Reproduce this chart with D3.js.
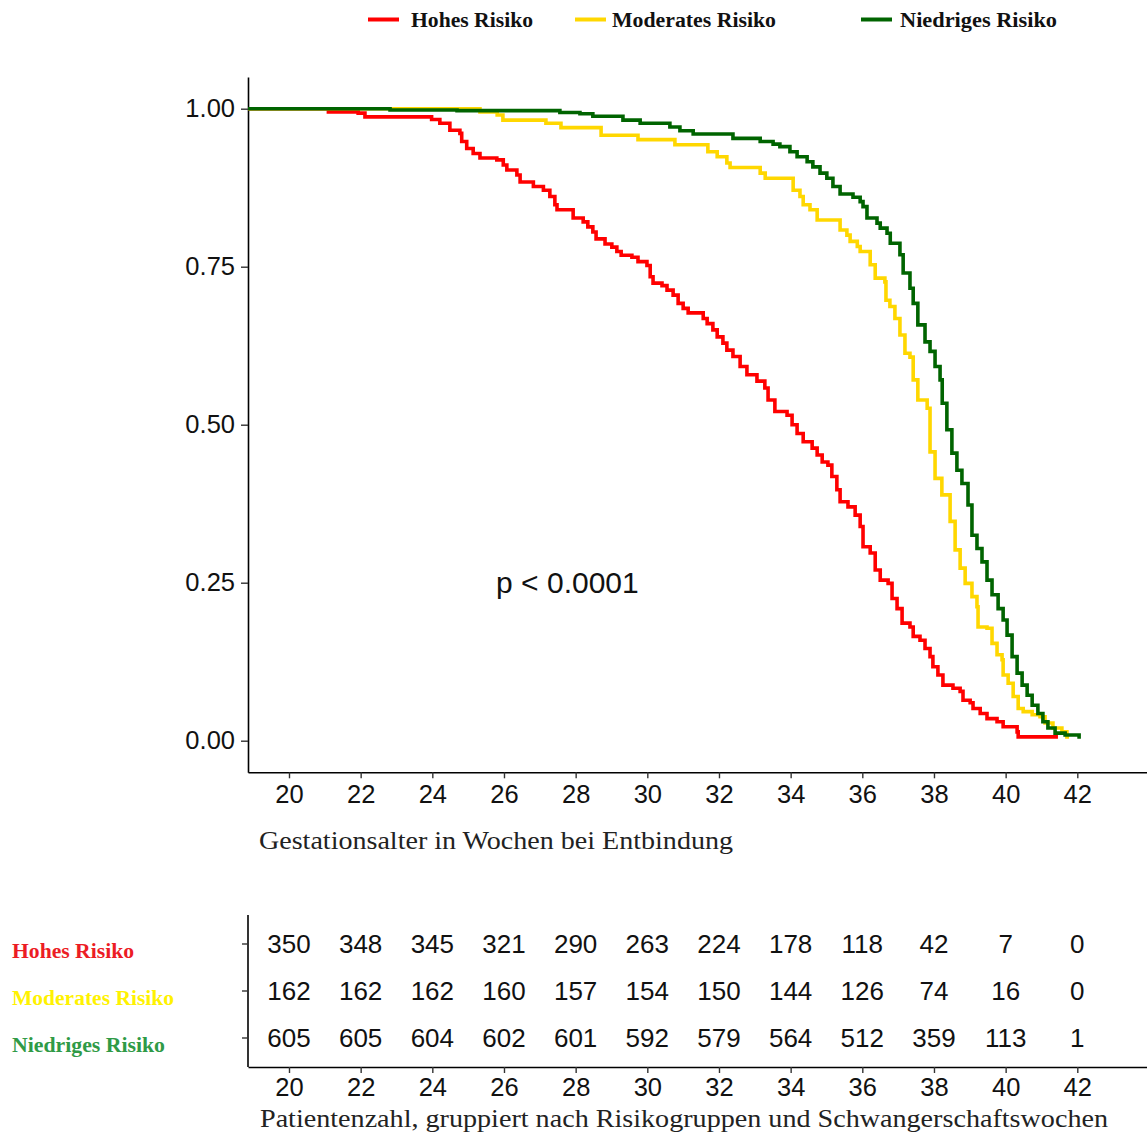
<!DOCTYPE html>
<html><head><meta charset="utf-8">
<script src="https://cdn.jsdelivr.net/npm/d3@7"></script>
<style>body{margin:0;background:#fff}</style>
</head><body>
<svg id="chart" width="1147" height="1136"></svg>
<script>
// ---------- DATA ----------
const groups = ["Hohes Risiko", "Moderates Risiko", "Niedriges Risiko"];
const curveColors = ["#ff0000", "#ffd700", "#006400"];
const labelColors = ["#ec1c24", "#fff200", "#2f9a46"];

// Kaplan-Meier steps: [week, survival after step]
const highRisk = [[21.10,0.995],[21.93,0.993],[22.12,0.987],[23.98,0.983],[24.21,0.977],[24.49,0.966],[24.77,0.961],[24.82,0.948],[24.96,0.937],[25.14,0.929],[25.33,0.922],[25.80,0.919],[25.98,0.911],[26.08,0.903],[26.36,0.895],[26.45,0.884],[26.82,0.877],[27.10,0.871],[27.28,0.861],[27.42,0.848],[27.48,0.840],[27.93,0.827],[28.21,0.821],[28.34,0.813],[28.48,0.805],[28.57,0.794],[28.82,0.786],[29.01,0.781],[29.15,0.774],[29.27,0.768],[29.57,0.765],[29.74,0.758],[29.99,0.752],[30.08,0.734],[30.16,0.724],[30.41,0.720],[30.55,0.713],[30.72,0.705],[30.86,0.692],[31.00,0.684],[31.14,0.677],[31.56,0.668],[31.67,0.660],[31.83,0.650],[31.95,0.639],[32.11,0.629],[32.22,0.618],[32.39,0.608],[32.59,0.592],[32.78,0.579],[33.06,0.569],[33.28,0.558],[33.37,0.539],[33.56,0.521],[33.90,0.515],[34.04,0.500],[34.18,0.486],[34.35,0.473],[34.60,0.463],[34.74,0.452],[34.88,0.441],[35.04,0.436],[35.15,0.418],[35.29,0.397],[35.38,0.378],[35.60,0.370],[35.80,0.357],[35.94,0.339],[36.02,0.307],[36.22,0.297],[36.36,0.270],[36.50,0.254],[36.72,0.249],[36.83,0.225],[36.97,0.209],[37.11,0.186],[37.33,0.180],[37.42,0.165],[37.61,0.159],[37.75,0.146],[37.89,0.133],[37.97,0.117],[38.11,0.104],[38.25,0.088],[38.53,0.083],[38.73,0.078],[38.81,0.064],[39.01,0.060],[39.09,0.051],[39.29,0.043],[39.48,0.035],[39.76,0.030],[39.93,0.022],[40.32,0.014],[40.35,0.006],[41.46,0.006]];

const moderateRisk = [[25.33,0.995],[25.81,0.990],[25.97,0.982],[27.17,0.977],[27.59,0.970],[28.71,0.958],[29.74,0.951],[30.77,0.943],[31.69,0.932],[31.95,0.924],[32.22,0.914],[32.31,0.907],[33.15,0.898],[33.29,0.890],[34.07,0.871],[34.26,0.861],[34.35,0.848],[34.54,0.840],[34.74,0.824],[35.38,0.808],[35.57,0.800],[35.66,0.790],[35.86,0.782],[35.94,0.774],[36.22,0.753],[36.36,0.732],[36.63,0.726],[36.66,0.697],[36.77,0.687],[36.91,0.668],[37.05,0.642],[37.19,0.613],[37.33,0.607],[37.42,0.571],[37.55,0.539],[37.81,0.526],[37.89,0.457],[38.03,0.415],[38.22,0.389],[38.45,0.347],[38.59,0.302],[38.73,0.273],[38.87,0.249],[39.06,0.228],[39.20,0.212],[39.23,0.180],[39.48,0.178],[39.62,0.154],[39.76,0.136],[39.90,0.128],[39.93,0.104],[40.07,0.091],[40.21,0.070],[40.35,0.051],[40.49,0.046],[40.74,0.041],[40.96,0.038],[41.10,0.028],[41.32,0.020],[41.57,0.014],[41.71,0.006],[41.77,0.006]];

const lowRisk = [[22.82,0.998],[24.69,0.997],[27.56,0.994],[28.12,0.992],[28.48,0.988],[29.32,0.982],[29.80,0.977],[30.63,0.971],[30.91,0.965],[31.28,0.960],[32.39,0.953],[33.15,0.948],[33.51,0.944],[33.70,0.940],[33.98,0.932],[34.18,0.924],[34.46,0.916],[34.62,0.908],[34.82,0.898],[35.01,0.890],[35.18,0.877],[35.38,0.865],[35.74,0.860],[35.94,0.853],[36.02,0.845],[36.13,0.827],[36.41,0.819],[36.50,0.811],[36.69,0.803],[36.78,0.787],[37.05,0.769],[37.14,0.740],[37.33,0.716],[37.42,0.692],[37.55,0.658],[37.75,0.631],[37.89,0.616],[38.03,0.592],[38.17,0.571],[38.23,0.534],[38.36,0.492],[38.50,0.455],[38.64,0.428],[38.78,0.407],[38.95,0.373],[39.06,0.325],[39.20,0.304],[39.34,0.283],[39.48,0.254],[39.62,0.231],[39.79,0.209],[39.93,0.191],[40.04,0.167],[40.18,0.133],[40.32,0.107],[40.46,0.088],[40.60,0.072],[40.74,0.056],[40.90,0.043],[41.04,0.030],[41.18,0.020],[41.38,0.012],[41.66,0.009],[42.05,0.003]];

const weekTicks = [20, 22, 24, 26, 28, 30, 32, 34, 36, 38, 40, 42];
const survTicks = [0, 0.25, 0.5, 0.75, 1];
const highAtRisk = [350, 348, 345, 321, 290, 263, 224, 178, 118, 42, 7, 0];
const moderateAtRisk = [162, 162, 162, 160, 157, 154, 150, 144, 126, 74, 16, 0];
const lowAtRisk = [605, 605, 604, 602, 601, 592, 579, 564, 512, 359, 113, 1];
const pValueText = "p < 0.0001";
const xTitle = "Gestationsalter in Wochen bei Entbindung";
const tableTitle = "Patientenzahl, gruppiert nach Risikogruppen und Schwangerschaftswochen";

// ---------- LAYOUT ----------
const svg = d3.select("#chart");
const sans = "'Liberation Sans', Arial, sans-serif";
const serif = "'Liberation Serif', 'Times New Roman', serif";

const x = d3.scaleLinear().domain([18.856, 43.945]).range([248, 1147]);
const y = d3.scaleLinear().domain([-0.05, 1.05]).range([772.3, 77.1]);

function styleAxis(g, fs) {
  g.select(".domain").attr("stroke", "#000").attr("stroke-width", 1.6);
  g.selectAll(".tick line").attr("stroke", "#333").attr("stroke-width", 1.4);
  g.selectAll(".tick text").attr("fill", "#111").style("font-family", sans).style("font-size", fs + "px");
}

// main axes
const gy = svg.append("g").attr("transform", "translate(248,0)")
  .call(d3.axisLeft(y).tickValues(survTicks).tickFormat(d3.format(".2f")).tickSize(7).tickSizeOuter(0).tickPadding(6));
styleAxis(gy, 25.5);
const gx = svg.append("g").attr("transform", "translate(0,772.3)")
  .call(d3.axisBottom(x).tickValues(weekTicks).tickFormat(d3.format("d")).tickSize(6).tickSizeOuter(0).tickPadding(7));
styleAxis(gx, 25.5);

// curves
const line = d3.line().x(d => x(d[0])).y(d => y(d[1])).curve(d3.curveStepAfter);
const series = [highRisk, moderateRisk, lowRisk];
series.forEach((s, i) => {
  svg.append("path")
    .datum([[x.domain()[0], 1]].concat(s))
    .attr("d", line)
    .attr("fill", "none")
    .attr("stroke", curveColors[i])
    .attr("stroke-width", 3.6)
    .attr("stroke-linejoin", "miter");
});

// p-value
svg.append("text").attr("x", x(27.77)).attr("y", y(0.25)).attr("dy", "0.35em")
  .attr("text-anchor", "middle").style("font-family", sans).style("font-size", "30px").attr("fill", "#111")
  .text(pValueText);

// x title
svg.append("text").attr("x", 259).attr("y", 849)
  .attr("textLength", 474).attr("lengthAdjust", "spacingAndGlyphs")
  .style("font-family", serif).style("font-size", "25px").attr("fill", "#222").text(xTitle);

// legend
const legendX = [368, 575, 861];
const legendW = [122, 164, 157];
groups.forEach((g, i) => {
  svg.append("line").attr("x1", legendX[i]).attr("x2", legendX[i] + 31).attr("y1", 19.5).attr("y2", 19.5)
    .attr("stroke", curveColors[i]).attr("stroke-width", 4);
  svg.append("text").attr("x", legendX[i] + (i === 2 ? 39 : (i === 1 ? 37 : 43))).attr("y", 27)
    .attr("textLength", legendW[i]).attr("lengthAdjust", "spacingAndGlyphs")
    .style("font-family", serif).style("font-weight", "bold").style("font-size", "20px").attr("fill", "#111").text(g);
});

// ---------- RISK TABLE ----------
const yt = d3.scalePoint().domain(groups).range([943.5, 1037.5]);
const tAxisY = svg.append("g").attr("transform", "translate(248,0)")
  .call(d3.axisLeft(yt).tickFormat("").tickSize(6).tickSizeOuter(0));
tAxisY.select(".domain").attr("d", "M0,915V1067");
styleAxis(tAxisY, 25);
const tAxisX = svg.append("g").attr("transform", "translate(0,1067)")
  .call(d3.axisBottom(x).tickValues(weekTicks).tickFormat(d3.format("d")).tickSize(6).tickSizeOuter(0).tickPadding(5));
styleAxis(tAxisX, 25.5);

const atRisk = [highAtRisk, moderateAtRisk, lowAtRisk];
groups.forEach((g, gi) => {
  svg.append("g").selectAll("text").data(atRisk[gi]).join("text")
    .attr("x", (d, i) => x(weekTicks[i])).attr("y", yt(g)).attr("dy", "0.35em")
    .attr("text-anchor", "middle").style("font-family", sans).style("font-size", "26px").attr("fill", "#111")
    .text(d => d);
});

const rowLabelW = [122, 162, 153];
groups.forEach((g, i) => {
  svg.append("text").attr("x", 12).attr("y", yt(g) + 14.5)
    .attr("textLength", rowLabelW[i]).attr("lengthAdjust", "spacingAndGlyphs")
    .style("font-family", serif).style("font-weight", "bold").style("font-size", "20px")
    .attr("fill", labelColors[i]).text(g);
});

svg.append("text").attr("x", 260).attr("y", 1127)
  .attr("textLength", 848).attr("lengthAdjust", "spacingAndGlyphs")
  .style("font-family", serif).style("font-size", "25px").attr("fill", "#222").text(tableTitle);
</script>
</body></html>
